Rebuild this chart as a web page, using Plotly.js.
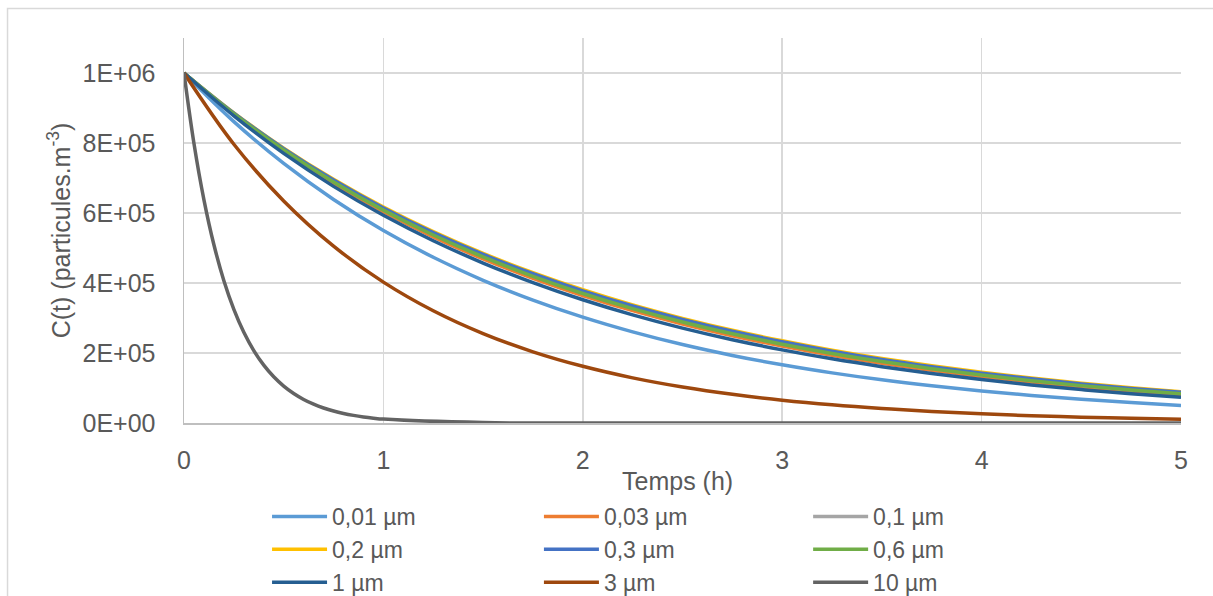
<!DOCTYPE html>
<html>
<head>
<meta charset="utf-8">
<script src="https://cdn.plot.ly/plotly-3.0.1.min.js"></script>
<style>html,body{margin:0;padding:0;background:#fff;}#chart{width:1213px;height:596px;}</style>
</head>
<body>
<div id="chart"></div>
<script>
// Time (h)
const time = [0, 0.25, 0.5, 0.75, 1, 1.25, 1.5, 1.75, 2, 2.25, 2.5, 2.75, 3, 3.25, 3.5, 3.75, 4, 4.25, 4.5, 4.75, 5];
const time10 = [0, 0.05, 0.1, 0.15, 0.2, 0.25, 0.3, 0.35, 0.4, 0.45, 0.5, 0.55, 0.6, 0.65, 0.7, 0.75, 0.8, 0.85, 0.9, 0.95, 1.0, 1.5, 2, 2.5, 3, 3.5, 4, 4.5, 5];

// Series names
const seriesNames = ["0,01 µm", "0,03 µm", "0,1 µm", "0,2 µm", "0,3 µm", "0,6 µm", "1 µm", "3 µm", "10 µm"];

// C(t) values (particules.m-3)
const c001 = [1000000, 861100, 741600, 638600, 549900, 473500, 407800, 351200, 302400, 260400, 224200, 193100, 166300, 143200, 123300, 106200, 91400, 78700, 67800, 58400, 50300];
const c003 = [1000000, 881400, 776900, 684800, 603500, 531900, 468800, 413200, 364200, 321000, 282900, 249300, 219800, 193700, 170800, 150500, 132600, 116900, 103000, 90800, 80100];
const c01  = [1000000, 883600, 780700, 689800, 609600, 538600, 475900, 420500, 371600, 328300, 290100, 256300, 226500, 200100, 176800, 156200, 138100, 122000, 107800, 95300, 84200];
const c02  = [1000000, 886300, 785400, 696100, 616900, 546700, 484600, 429500, 380600, 337300, 298900, 264900, 234800, 208100, 184400, 163400, 144800, 128300, 113800, 100900, 89400];
const c03  = [1000000, 885400, 783900, 694000, 614400, 544000, 481700, 426500, 377600, 334300, 296000, 262100, 232000, 205400, 181800, 161000, 142500, 126200, 111700, 98900, 87600];
const c06  = [1000000, 883200, 780000, 688900, 608300, 537200, 474500, 419100, 370100, 326900, 288600, 254900, 225100, 198800, 175600, 155100, 137000, 121000, 106800, 94300, 83300];
const c1   = [1000000, 877700, 770300, 676100, 593400, 520800, 457100, 401200, 352100, 309000, 271200, 238000, 208900, 183300, 160900, 141200, 124000, 108800, 95500, 83800, 73500];
const c3   = [1000000, 796500, 634400, 505300, 402500, 320600, 255400, 203400, 162000, 129000, 102800, 81900, 65200, 51900, 41400, 33000, 26300, 20900, 16700, 13300, 10600];
const c10  = [1000000, 798500, 637600, 509200, 406600, 324700, 259200, 207000, 165300, 132000, 105400, 84200, 67200, 53700, 42900, 34200, 27300, 21800, 17400, 13900, 11100, 1200, 100, 0, 0, 0, 0, 0, 0];

// Tick labels
const yTickVals = [0, 200000, 400000, 600000, 800000, 1000000];
const yTickText = ["0E+00", "2E+05", "4E+05", "6E+05", "8E+05", "1E+06"];

const colors = ["#5B9BD5", "#ED7D31", "#A5A5A5", "#FFC000", "#4472C4", "#70AD47", "#255E91", "#9E480E", "#636363"];
const ys = [c001, c003, c01, c02, c03, c06, c1, c3, c10];
const legendIds = ["legend", "legend2", "legend3"];

const FONT = "Liberation Sans, Arial, sans-serif";
const TXT = "#595959";

const traces = ys.map((y, i) => ({
  type: "scatter",
  mode: "lines",
  x: i === 8 ? time10 : time,
  y: y,
  name: seriesNames[i],
  line: {color: colors[i], width: 3.5, shape: "spline", smoothing: 1},
  legend: legendIds[i % 3],
  hoverinfo: "skip"
}));

const legendBase = {
  orientation: "v",
  xanchor: "left",
  yanchor: "top",
  y: -0.187,
  bgcolor: "rgba(0,0,0,0)",
  borderwidth: 0,
  itemwidth: 55,
  font: {family: FONT, size: 23, color: TXT}
};

const layout = {
  width: 1213,
  height: 596,
  margin: {l: 184, r: 32, t: 38, b: 173, autoexpand: false},
  paper_bgcolor: "#ffffff",
  plot_bgcolor: "#ffffff",
  font: {family: FONT, size: 25, color: TXT},
  showlegend: true,
  legend: Object.assign({}, legendBase, {x: 0.0833}),
  legend2: Object.assign({}, legendBase, {x: 0.356}),
  legend3: Object.assign({}, legendBase, {x: 0.626}),
  xaxis: {
    range: [0, 5],
    tick0: 0,
    dtick: 1,
    showgrid: true,
    gridcolor: "#d9d9d9",
    gridwidth: 1.5,
    zeroline: false,
    showline: true,
    linecolor: "#bfbfbf",
    linewidth: 1.5,
    ticks: "",
    ticklabelstandoff: 14,
    tickfont: {family: FONT, size: 25, color: TXT},
    layer: "below traces",
    automargin: false,
    fixedrange: true
  },
  yaxis: {
    range: [0, 1100000],
    tickvals: yTickVals,
    ticktext: yTickText,
    showgrid: true,
    gridcolor: "#d9d9d9",
    gridwidth: 1.5,
    zeroline: false,
    showline: true,
    linecolor: "#bfbfbf",
    linewidth: 1.5,
    ticks: "",
    ticklabelstandoff: 22,
    tickfont: {family: FONT, size: 25, color: TXT},
    title: {text: "C(t) (particules.m<sup>-3</sup>)", font: {family: FONT, size: 25, color: TXT}, standoff: 5},
    layer: "below traces",
    automargin: false,
    fixedrange: true
  },
  annotations: [{
    text: "Temps (h)",
    xref: "paper", yref: "paper",
    x: 0.4945, y: -0.1506,
    xanchor: "center", yanchor: "middle",
    showarrow: false,
    font: {family: FONT, size: 25, color: TXT}
  }],
  shapes: [{
    type: "rect", xref: "paper", yref: "paper",
    x0: -0.1770, x1: 1.1, y0: -0.5, y1: 1.0766,
    line: {color: "#d9d9d9", width: 1.5},
    fillcolor: "rgba(0,0,0,0)",
    layer: "below"
  }],
  hovermode: false
};

Plotly.newPlot("chart", traces, layout, {displayModeBar: false, staticPlot: true});
</script>
</body>
</html>
